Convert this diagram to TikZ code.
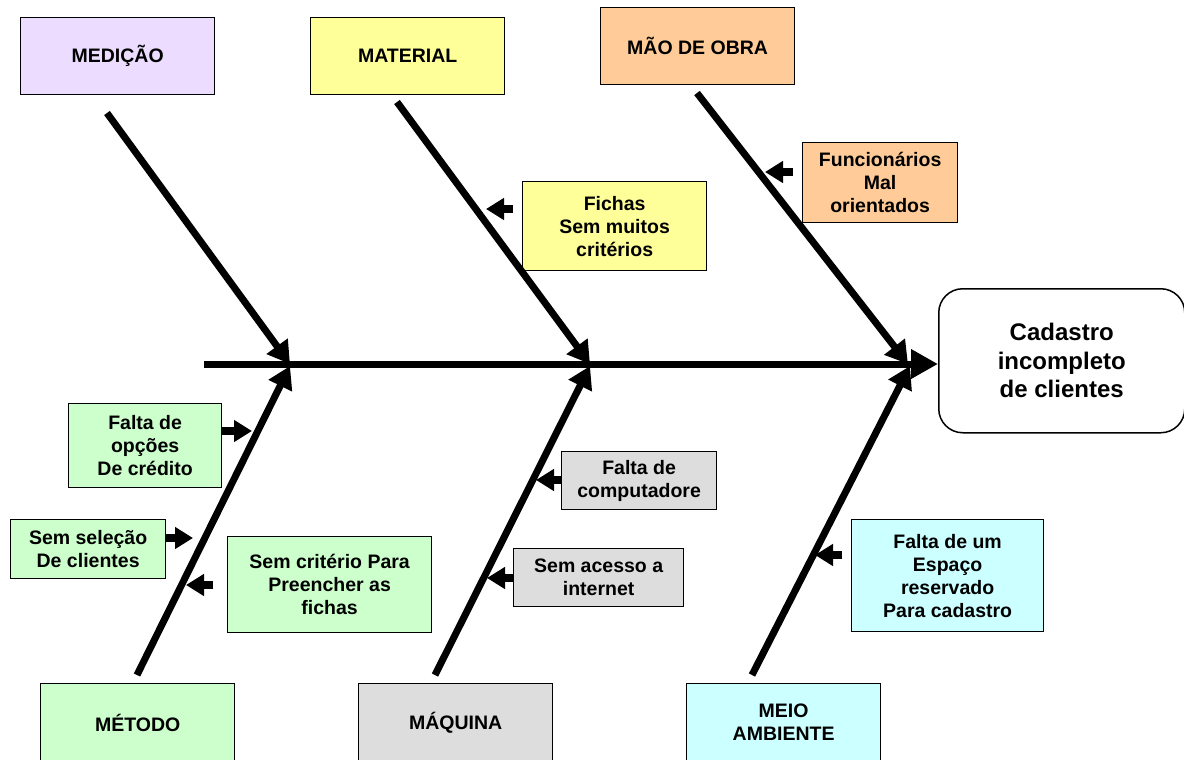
\documentclass[tikz,border=0pt]{standalone}
\usepackage{fontspec}
\setmainfont{Liberation Sans}
\usetikzlibrary{arrows.meta}
\definecolor{cLav}{RGB}{236,220,255}
\definecolor{cYel}{RGB}{255,255,153}
\definecolor{cOra}{RGB}{255,204,153}
\definecolor{cGre}{RGB}{204,255,204}
\definecolor{cGra}{RGB}{221,221,221}
\definecolor{cCya}{RGB}{204,255,255}
\begin{document}
\begin{tikzpicture}[x=1pt,y=-1pt,
  box/.style={draw=black,line width=1.3pt,align=center,anchor=north west,inner sep=0pt,
    font=\bfseries\fontsize{19.5}{23}\selectfont},
  bone/.style={line width=7pt,-{Triangle[length=22pt,width=25pt]}},
  spinestyle/.style={line width=7pt,-{Triangle[length=27pt,width=28pt]}},
  cause/.style={line width=8pt,-{Triangle[length=18pt,width=21pt]}},
]
\useasboundingbox (0,0) rectangle (1184,760);

% category boxes
\node[box,fill=cLav,minimum width=194pt,minimum height=77pt] (medicao) at (20,17) {MEDIÇÃO};
\node[box,fill=cYel,minimum width=194pt,minimum height=77pt] (material) at (310,17) {MATERIAL};
\node[box,fill=cOra,minimum width=194pt,minimum height=77pt] (maodeobra) at (600,7) {MÃO DE OBRA};
\node[box,fill=cGre,minimum width=194pt,minimum height=78pt] (metodo) at (40,683) {MÉTODO};
\node[box,fill=cGra,minimum width=194pt,minimum height=78pt] (maquina) at (358,683) {MÁQUINA};
\node[box,fill=cCya,minimum width=194pt,minimum height=78pt] (meio) at (686,683) {MEIO\\AMBIENTE};

% effect
\node[draw=black,line width=1.5pt,rounded corners=24pt,anchor=north west,inner sep=0pt,
  minimum width=246pt,minimum height=144pt,align=center,
  font=\bfseries\fontsize{24}{28.5}\selectfont] (cadastro) at (938,288)
  {Cadastro\\incompleto\\de clientes};

% cause boxes
\node[box,fill=cYel,minimum width=184pt,minimum height=89pt] (fichas) at (522,181) {Fichas\\Sem muitos\\critérios};
\node[box,fill=cOra,minimum width=155pt,minimum height=80pt] (func) at (802,142) {Funcionários\\Mal\\orientados};
\node[box,fill=cGre,minimum width=153pt,minimum height=84pt] (opcoes) at (68,403) {Falta de\\opções\\De crédito};
\node[box,fill=cGre,minimum width=155pt,minimum height=59pt] (selecao) at (10,519) {Sem seleção\\De clientes};
\node[box,fill=cGre,minimum width=204pt,minimum height=96pt] (criterio) at (227,536) {Sem critério Para\\Preencher as\\fichas};
\node[box,fill=cGra,minimum width=155pt,minimum height=58pt] (comput) at (561,451) {Falta de\\computadore};
\node[box,fill=cGra,minimum width=170pt,minimum height=58pt] (internet) at (513,548) {Sem acesso a\\internet};
\node[box,fill=cCya,minimum width=192pt,minimum height=112pt] (espaco) at (851,519) {Falta de um\\Espaço\\reservado\\Para cadastro};

% spine and bone coordinates
\coordinate (s0) at (204,364);
\coordinate (j1) at (290,364);
\coordinate (j2) at (590,364);
\coordinate (j3) at (908,364);
\coordinate (k1) at (290,366);
\coordinate (k2) at (590,366);
\coordinate (k3) at (910,366);
\coordinate (b1) at (107,113);
\coordinate (b2) at (397,102);
\coordinate (b3) at (697,93);
\coordinate (b4) at (137,675);
\coordinate (b5) at (435,675);
\coordinate (b6) at (752,675);

\draw[spinestyle] (s0) -- (s0 -| cadastro.west);
\draw[bone] (b1) -- (j1);
\draw[bone] (b2) -- (j2);
\draw[bone] (b3) -- (j3);
\draw[bone] (b4) -- (k1);
\draw[bone] (b5) -- (k2);
\draw[bone] (b6) -- (k3);

% small cause arrows
\coordinate (a1s) at (513,209); \coordinate (a1e) at (486,209);
\coordinate (a2s) at (793,172); \coordinate (a2e) at (765,172);
\coordinate (a3s) at (222,431); \coordinate (a3e) at (252,431);
\coordinate (a4s) at (165,538); \coordinate (a4e) at (193,538);
\coordinate (a5s) at (213,585); \coordinate (a5e) at (186,585);
\coordinate (a6s) at (562,480); \coordinate (a6e) at (536,480);
\coordinate (a7s) at (513,578); \coordinate (a7e) at (487,578);
\coordinate (a8s) at (842,555); \coordinate (a8e) at (815,555);
\draw[cause] (a1s) -- (a1e);
\draw[cause] (a2s) -- (a2e);
\draw[cause] (a3s) -- (a3e);
\draw[cause] (a4s) -- (a4e);
\draw[cause] (a5s) -- (a5e);
\draw[cause] (a6s) -- (a6e);
\draw[cause] (a7s) -- (a7e);
\draw[cause] (a8s) -- (a8e);
\end{tikzpicture}
\end{document}
